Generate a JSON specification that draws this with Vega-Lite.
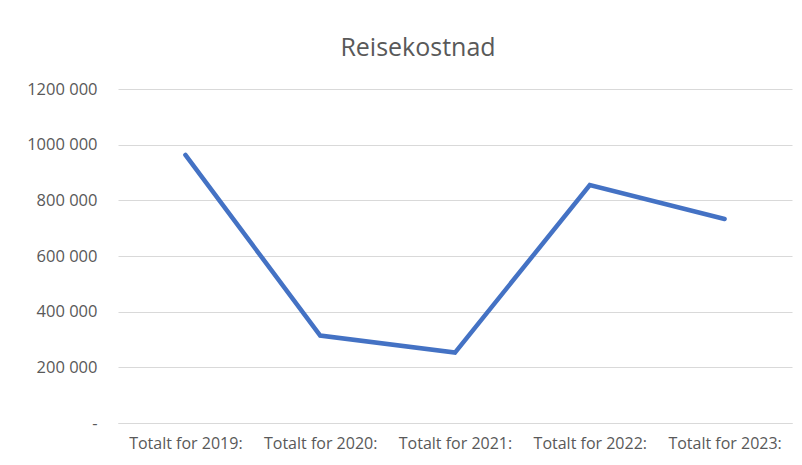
{
  "$schema": "https://vega.github.io/schema/vega-lite/v6.json",
  "autosize": {"type": "none"},
  "width": 674,
  "height": 334,
  "padding": {"left": 118, "top": 89, "right": 10, "bottom": 42},
  "background": "white",
  "title": {
    "text": "Reisekostnad",
    "font": "Open Sans",
    "fontSize": 25,
    "fontWeight": "normal",
    "color": "#595959",
    "anchor": "middle",
    "baseline": "alphabetic",
    "dx": -37,
    "dy": 32,
    "offset": 32
  },
  "data": {
    "values": [
      {"year": "Totalt for 2019:", "cost": 963000},
      {"year": "Totalt for 2020:", "cost": 314000},
      {"year": "Totalt for 2021:", "cost": 253000},
      {"year": "Totalt for 2022:", "cost": 855000},
      {"year": "Totalt for 2023:", "cost": 733000}
    ]
  },
  "mark": {"type": "line", "color": "#4472C4", "strokeWidth": 4.5, "strokeCap": "round", "strokeJoin": "miter"},
  "encoding": {
    "x": {
      "field": "year",
      "type": "nominal",
      "sort": null,
      "scale": {"type": "point", "padding": 0.5},
      "axis": {
        "title": null,
        "labelAngle": 0,
        "ticks": false,
        "grid": false,
        "domainColor": "#d9d9d9",
        "domainWidth": 1,
        "labelPadding": 12,
        "labelFont": "Open Sans",
        "labelFontSize": 16,
        "labelColor": "#595959"
      }
    },
    "y": {
      "field": "cost",
      "type": "quantitative",
      "scale": {"domain": [0, 1200000], "nice": false},
      "axis": {
        "title": null,
        "values": [0, 200000, 400000, 600000, 800000, 1000000, 1200000],
        "labelExpr": "datum.value == 0 ? '-\u2007\u2007' : floor(datum.value / 1000) + ' 000'",
        "domain": false,
        "ticks": false,
        "grid": true,
        "gridColor": "#d9d9d9",
        "gridWidth": 1,
        "labelPadding": 21,
        "labelFont": "Open Sans",
        "labelFontSize": 16.5,
        "labelColor": "#595959"
      }
    }
  },
  "config": {"view": {"stroke": null}}
}
